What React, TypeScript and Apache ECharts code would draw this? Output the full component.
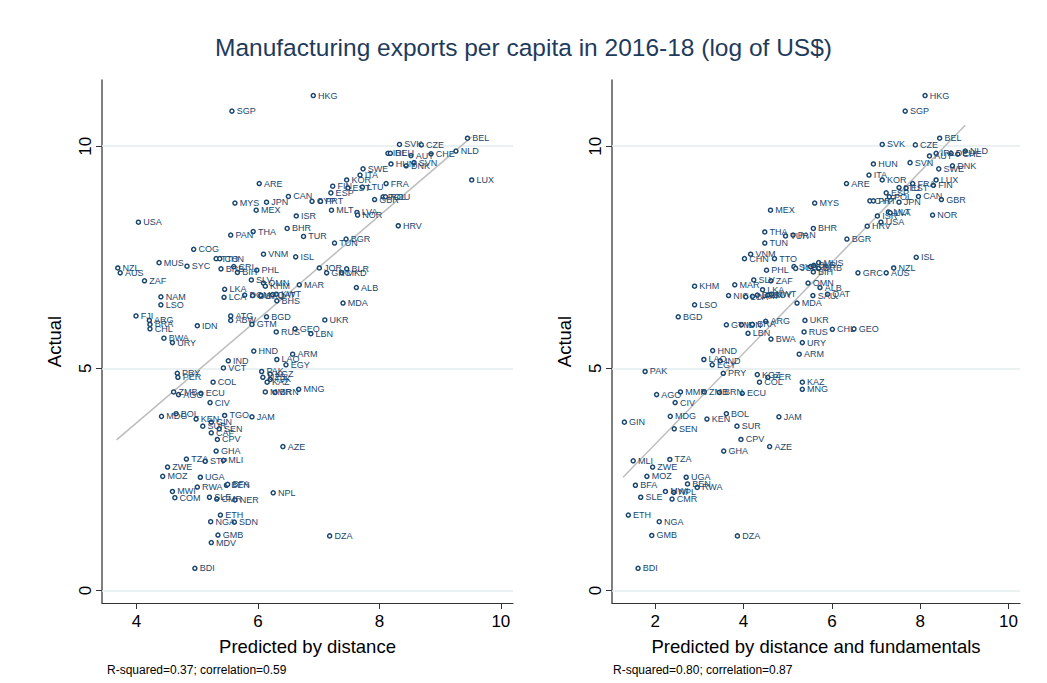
import React, { useEffect, useRef } from "react";
import * as echarts from "echarts";

type Pt = [string, number, number];

const titleText = "Manufacturing exports per capita in 2016-18 (log of US$)";
const leftXName = "Predicted by distance";
const rightXName = "Predicted by distance and fundamentals";
const yName = "Actual";
const leftNote = "R-squared=0.37; correlation=0.59";
const rightNote = "R-squared=0.80; correlation=0.87";

const leftXTicks = [4, 6, 8, 10];
const rightXTicks = [2, 4, 6, 8, 10];
const yTicks = [0, 5, 10];

const leftFit: [number, number][] = [[3.67, 3.39], [9.52, 10.21]];
const rightFit: [number, number][] = [[1.27, 2.55], [9.02, 10.47]];

const leftPoints: Pt[] = [
  ["SGP", 5.57, 10.79], ["MYS", 5.62, 8.72], ["USA", 4.03, 8.29], ["PAN", 5.55, 8.0],
  ["COG", 4.94, 7.68], ["TTO", 5.31, 7.47], ["CHN", 5.37, 7.47], ["NZL", 3.69, 7.26],
  ["AUS", 3.73, 7.15], ["MUS", 4.37, 7.38], ["SYC", 4.83, 7.3], ["BRB", 5.39, 7.24],
  ["CRI", 5.6, 7.29], ["BIH", 5.66, 7.16], ["ZAF", 4.13, 6.97], ["LKA", 5.45, 6.78],
  ["LCA", 5.44, 6.6], ["NAM", 4.4, 6.61], ["LSO", 4.4, 6.43], ["FJI", 3.99, 6.18],
  ["ARG", 4.21, 6.08], ["BRA", 4.22, 5.99], ["CHL", 4.22, 5.89], ["IDN", 5.0, 5.96],
  ["ATG", 5.55, 6.18], ["ABW", 5.55, 6.08], ["BWA", 4.45, 5.68], ["URY", 4.59, 5.58],
  ["IND", 5.51, 5.17], ["VCT", 5.43, 5.01], ["PRY", 4.67, 4.89], ["PER", 4.68, 4.8],
  ["COL", 5.26, 4.69], ["ZMB", 4.61, 4.47], ["AGO", 4.69, 4.41], ["ECU", 5.06, 4.44],
  ["CIV", 5.21, 4.23], ["MDG", 4.41, 3.92], ["BOL", 4.65, 3.98], ["KEN", 4.98, 3.86],
  ["TGO", 5.45, 3.94], ["GIN", 5.23, 3.79], ["SUR", 5.09, 3.7], ["SEN", 5.36, 3.64],
  ["CAF", 5.23, 3.55], ["CPV", 5.33, 3.4], ["GHA", 5.31, 3.14], ["TZA", 4.82, 2.96],
  ["STP", 5.13, 2.91], ["MLI", 5.43, 2.93], ["ZWE", 4.51, 2.78], ["MOZ", 4.43, 2.57],
  ["UGA", 5.05, 2.55], ["MWI", 4.59, 2.23], ["RWA", 5.0, 2.33], ["BEN", 5.48, 2.37],
  ["BFA", 5.5, 2.39], ["COM", 4.63, 2.09], ["SLE", 5.2, 2.1], ["CMR", 5.32, 2.06],
  ["NER", 5.62, 2.04], ["ETH", 5.38, 1.7], ["NGA", 5.22, 1.55], ["SDN", 5.61, 1.54],
  ["GMB", 5.34, 1.25], ["MDV", 5.23, 1.08], ["BDI", 4.96, 0.5], ["HKG", 6.91, 11.14],
  ["ARE", 6.02, 9.16], ["JPN", 6.14, 8.74], ["MEX", 5.97, 8.56], ["CAN", 6.5, 8.87],
  ["ISR", 6.63, 8.43], ["CYP", 6.89, 8.76], ["PRT", 7.03, 8.76], ["FIN", 7.23, 9.1],
  ["EST", 7.48, 9.06], ["ESP", 7.2, 8.95], ["KOR", 7.46, 9.24], ["ITA", 7.68, 9.35],
  ["SWE", 7.73, 9.49], ["LTU", 7.72, 9.08], ["MLT", 7.21, 8.56], ["LVA", 7.63, 8.51],
  ["NOR", 7.64, 8.45], ["GBR", 7.92, 8.8], ["THA", 5.92, 8.08], ["BHR", 6.48, 8.15],
  ["TUR", 6.75, 7.97], ["TUN", 7.26, 7.82], ["BGR", 7.45, 7.91], ["VNM", 6.09, 7.57],
  ["ISL", 6.62, 7.51], ["JOR", 7.01, 7.26], ["GRC", 7.13, 7.15], ["MKD", 7.38, 7.15],
  ["BLR", 7.46, 7.24], ["PHL", 5.98, 7.21], ["SLV", 5.89, 6.99], ["OMN", 6.09, 6.92],
  ["KHM", 6.12, 6.85], ["MAR", 6.68, 6.88], ["ALB", 7.62, 6.82], ["DOM", 5.78, 6.65],
  ["GUY", 5.91, 6.64], ["SAU", 6.05, 6.64], ["QAT", 6.24, 6.66], ["KWT", 6.3, 6.67],
  ["BHS", 6.31, 6.52], ["MDA", 7.4, 6.47], ["UKR", 7.1, 6.09], ["BGD", 6.14, 6.16],
  ["GTM", 5.9, 5.99], ["RUS", 6.3, 5.82], ["GEO", 6.61, 5.89], ["LBN", 6.87, 5.78],
  ["HND", 5.93, 5.39], ["LAO", 6.31, 5.2], ["ARM", 6.57, 5.32], ["EGY", 6.46, 5.08],
  ["PAK", 6.06, 4.93], ["KGZ", 6.2, 4.87], ["UZB", 6.08, 4.8], ["TJK", 6.2, 4.75],
  ["KAZ", 6.15, 4.69], ["MMR", 6.12, 4.47], ["BRN", 6.28, 4.46], ["MNG", 6.67, 4.53],
  ["JAM", 5.9, 3.91], ["AZE", 6.41, 3.24], ["NPL", 6.25, 2.2], ["DZA", 7.18, 1.23],
  ["SVK", 8.33, 10.04], ["CZE", 8.69, 10.03], ["BEL", 9.45, 10.18], ["NLD", 9.26, 9.89],
  ["IRL", 8.14, 9.84], ["DEU", 8.18, 9.84], ["AUT", 8.52, 9.79], ["CHE", 8.85, 9.83],
  ["HUN", 8.19, 9.6], ["SVN", 8.57, 9.63], ["DNK", 8.44, 9.56], ["FRA", 8.11, 9.16],
  ["LUX", 9.52, 9.24], ["HRV", 8.31, 8.21], ["POL", 8.06, 8.86], ["ROU", 8.1, 8.86],
];

const rightPoints: Pt[] = [
  ["KHM", 2.89, 6.85], ["MAR", 3.8, 6.88], ["NIC", 3.66, 6.64], ["LCA", 4.05, 6.61],
  ["LSO", 2.89, 6.43], ["BGD", 2.52, 6.16], ["GTM", 3.61, 5.98], ["IDN", 3.95, 5.98],
  ["BRA", 4.2, 5.99], ["LBN", 4.1, 5.79], ["CHN", 4.02, 7.47], ["SVK", 7.14, 10.04],
  ["HUN", 6.94, 9.6], ["ITA", 6.84, 9.35], ["ARE", 6.33, 9.16], ["KOR", 7.14, 9.24],
  ["MYS", 5.61, 8.72], ["MEX", 4.61, 8.56], ["CYP", 6.86, 8.77], ["PRT", 6.94, 8.77],
  ["THA", 4.48, 8.07], ["TUR", 4.95, 7.98], ["PAN", 5.12, 8.0], ["BHR", 5.58, 8.15],
  ["TUN", 4.48, 7.82], ["BGR", 6.34, 7.91], ["HRV", 6.8, 8.2], ["ISR", 7.03, 8.43],
  ["USA", 7.11, 8.29], ["VNM", 4.16, 7.57], ["TTO", 4.7, 7.47], ["PHL", 4.52, 7.21],
  ["SLV", 4.23, 6.99], ["ZAF", 4.62, 6.97], ["LKA", 4.43, 6.77], ["NAM", 4.2, 6.62],
  ["DOM", 4.31, 6.65], ["GUY", 4.55, 6.65], ["KWT", 4.63, 6.67], ["SYC", 5.14, 7.29],
  ["JOR", 5.18, 7.25], ["CRI", 5.52, 7.29], ["BLR", 5.59, 7.32], ["MUS", 5.7, 7.38],
  ["BRB", 5.7, 7.25], ["BIH", 5.58, 7.17], ["OMN", 5.46, 6.92], ["ALB", 5.73, 6.82],
  ["SAU", 5.57, 6.64], ["QAT", 5.9, 6.67], ["MDA", 5.21, 6.47], ["ARG", 4.5, 6.06],
  ["UKR", 5.39, 6.08], ["RUS", 5.37, 5.82], ["CHL", 6.01, 5.88], ["GEO", 6.5, 5.89],
  ["BWA", 4.62, 5.66], ["GRC", 6.59, 7.15], ["HKG", 8.11, 11.14], ["SGP", 7.66, 10.79],
  ["BEL", 8.44, 10.18], ["CZE", 7.89, 10.03], ["NLD", 9.02, 9.89], ["IRL", 8.36, 9.84],
  ["DEU", 8.7, 9.84], ["CHE", 8.85, 9.82], ["AUT", 8.21, 9.78], ["SVN", 7.77, 9.63],
  ["SWE", 8.42, 9.49], ["DNK", 8.73, 9.56], ["LUX", 8.36, 9.24], ["FIN", 8.3, 9.12],
  ["FRA", 7.83, 9.16], ["EST", 7.68, 9.06], ["LTU", 7.52, 9.07], ["ESP", 7.23, 8.95],
  ["POL", 7.3, 8.86], ["GBR", 8.48, 8.8], ["CAN", 7.96, 8.87], ["JPN", 7.52, 8.74],
  ["MLT", 7.28, 8.52], ["LVA", 7.32, 8.5], ["NOR", 8.28, 8.45], ["ISL", 7.91, 7.5],
  ["NZL", 7.4, 7.26], ["AUS", 7.23, 7.15], ["HND", 3.3, 5.4], ["LAO", 3.1, 5.2],
  ["IND", 3.47, 5.17], ["EGY", 3.29, 5.08], ["PAK", 1.77, 4.93], ["PRY", 3.54, 4.89],
  ["AGO", 2.03, 4.41], ["MMR", 2.57, 4.47], ["ZMB", 3.11, 4.47], ["BRN", 3.45, 4.46],
  ["ECU", 3.97, 4.44], ["CIV", 2.45, 4.23], ["GIN", 1.3, 3.79], ["MDG", 2.34, 3.92],
  ["KEN", 3.17, 3.86], ["BOL", 3.61, 3.98], ["SEN", 2.43, 3.64], ["SUR", 3.85, 3.7],
  ["CPV", 3.94, 3.4], ["GHA", 3.55, 3.14], ["MLI", 1.5, 2.92], ["TZA", 2.33, 2.95],
  ["ZWE", 1.94, 2.78], ["MOZ", 1.81, 2.57], ["UGA", 2.7, 2.55], ["BFA", 1.55, 2.37],
  ["BEN", 2.73, 2.4], ["RWA", 2.95, 2.32], ["MWI", 2.23, 2.23], ["NPL", 2.42, 2.21],
  ["SLE", 1.67, 2.1], ["CMR", 2.38, 2.06], ["ETH", 1.39, 1.7], ["NGA", 2.09, 1.55],
  ["GMB", 1.92, 1.24], ["DZA", 3.86, 1.23], ["BDI", 1.61, 0.5], ["URY", 5.33, 5.58],
  ["ARM", 5.26, 5.32], ["KGZ", 4.31, 4.86], ["PER", 4.55, 4.8], ["COL", 4.36, 4.69],
  ["KAZ", 5.33, 4.69], ["MNG", 5.33, 4.53], ["JAM", 4.8, 3.91], ["AZE", 4.59, 3.24],
];

const NAVY = "#1a476f";
const SANS = "'Liberation Sans', Arial, sans-serif";

function makeXAxis(idx: number, min: number, max: number, ticks: number[], name: string) {
  return {
    type: "value", gridIndex: idx, min, max,
    name, nameLocation: "middle", nameGap: 34,
    nameTextStyle: { fontSize: 18.5, fontFamily: SANS, color: "#000" },
    axisLine: { show: true, onZero: false, lineStyle: { color: "#333", width: 1.2 } },
    axisTick: { show: true, length: 6, customValues: ticks, lineStyle: { color: "#333" } },
    axisLabel: { customValues: ticks, fontSize: 17, fontFamily: SANS, color: "#000", margin: 10 },
    splitLine: { show: false },
  };
}

function makeYAxis(idx: number) {
  return {
    type: "value", gridIndex: idx, min: -0.28, max: 11.49,
    name: yName, nameLocation: "middle", nameGap: 38, nameRotate: 90,
    nameTextStyle: { fontSize: 18.5, fontFamily: SANS, color: "#000" },
    axisLine: { show: true, onZero: false, lineStyle: { color: "#555", width: 1.5 } },
    axisTick: { show: true, length: 6, customValues: yTicks, lineStyle: { color: "#333" } },
    axisLabel: { customValues: yTicks, rotate: 90, fontSize: 17, fontFamily: SANS, color: "#000", margin: 8 },
    splitLine: { show: false },
  };
}

function scatterSeries(idx: number, pts: Pt[]) {
  return {
    type: "scatter", xAxisIndex: idx, yAxisIndex: idx, z: 5,
    symbol: "circle", symbolSize: 4,
    itemStyle: { color: "#fff", borderColor: NAVY, borderWidth: 1.5, opacity: 1 },
    label: { show: true, position: "right", distance: 2, formatter: "{b}", fontSize: 9, fontFamily: SANS, color: NAVY },
    data: pts.map((p) => ({ name: p[0], value: [p[1], p[2]] })),
    markLine: {
      silent: true, symbol: ["none", "none"], label: { show: false }, z: 1,
      lineStyle: { color: "#e4ecef", width: 1.5, type: "solid" },
      data: yTicks.map((v) => ({ yAxis: v })),
    },
  };
}

function fitSeries(idx: number, pts: [number, number][]) {
  return {
    type: "line", xAxisIndex: idx, yAxisIndex: idx, z: 3,
    showSymbol: false, symbol: "none",
    lineStyle: { color: "#bdbdbd", width: 1.5 },
    data: pts,
  };
}

export default function App() {
  const ref = useRef<HTMLDivElement>(null);
  useEffect(() => {
    if (!ref.current) return;
    const chart = echarts.init(ref.current, undefined, { renderer: "svg" });
    chart.setOption({
      animation: false,
      backgroundColor: "#fff",
      title: {
        text: titleText, left: "center", top: 30,
        textStyle: { fontSize: 24.5, fontWeight: "normal", color: "#1f3b5c", fontFamily: SANS },
      },
      grid: [
        { left: 102, top: 80, width: 411, height: 523 },
        { left: 612, top: 80, width: 408, height: 523 },
      ],
      xAxis: [
        makeXAxis(0, 3.43, 10.2, leftXTicks, leftXName),
        makeXAxis(1, 1.02, 10.26, rightXTicks, rightXName),
      ],
      yAxis: [makeYAxis(0), makeYAxis(1)],
      series: [
        fitSeries(0, leftFit),
        fitSeries(1, rightFit),
        scatterSeries(0, leftPoints),
        scatterSeries(1, rightPoints),
      ],
      graphic: [
        { type: "text", left: 107, top: 664, style: { text: leftNote, fontSize: 12, fontFamily: SANS, fill: "#000" } },
        { type: "text", left: 613, top: 664, style: { text: rightNote, fontSize: 12, fontFamily: SANS, fill: "#000" } },
      ],
    });
    return () => chart.dispose();
  }, []);
  return <div ref={ref} style={{ position: "absolute", left: 0, top: 0, width: 1047, height: 683 }} />;
}
